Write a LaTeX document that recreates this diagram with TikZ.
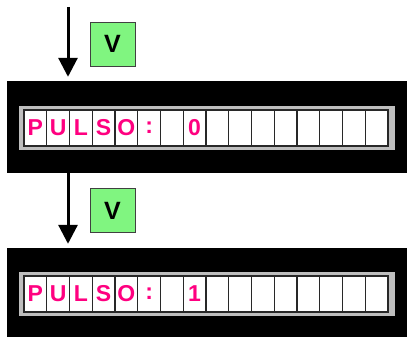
\documentclass[tikz,border=0pt]{standalone}
\usepackage{fontspec}
\setmainfont{Liberation Sans}
\usetikzlibrary{arrows.meta}
\definecolor{pulsepink}{RGB}{255,0,128}
\definecolor{vgreen}{RGB}{128,245,128}
\definecolor{stripgray}{RGB}{190,190,190}
\definecolor{cellline}{RGB}{40,40,40}
\begin{document}
\begin{tikzpicture}[x=1pt,y=-1pt,
  panel/.style={fill=black,draw=none,minimum width=400pt,minimum height=92pt,inner sep=0pt},
  strip/.style={fill=stripgray,draw=none,minimum width=376pt,minimum height=44pt,inner sep=0pt},
  cell/.style={fill=white,draw=cellline,line width=1.1pt,minimum width=22.75pt,minimum height=36pt,inner sep=0pt,
    text=pulsepink,font=\bfseries\fontsize{23}{23}\selectfont},
  vbox/.style={fill=vgreen,draw=black!75,line width=0.8pt,minimum width=45pt,minimum height=44pt,inner sep=0pt,
    font=\bfseries\fontsize{25}{25}\selectfont},
  flow/.style={line width=3pt,-{Triangle[length=19pt,width=19pt]},shorten >=4pt}
]
\useasboundingbox (0,0) rectangle (407,337);
% panels
\node[panel] (p1) at (207,127) {};
\node[panel,minimum height=90pt] (p2) at (207,293) {};
\node[strip] (s1) at (207,128) {};
\node[strip] (s2) at (207,294) {};
% cells
\foreach \t [count=\i] in {P,U,L,S,O,:,{},0,{},{},{},{},{},{},{},{}} {
  \node[cell] (a\i) at ({24+22.75*(\i-0.5)},128) {\t};
}
\foreach \t [count=\i] in {P,U,L,S,O,:,{},1,{},{},{},{},{},{},{},{}} {
  \node[cell] (b\i) at ({24+22.75*(\i-0.5)},294) {\t};
}
% V boxes
\node[vbox] (v1) at (112.5,44) {V};
\node[vbox] (v2) at (112.5,210.5) {V};
% arrows
\coordinate (top) at (68,7);
\draw[flow] (top) -- (top |- p1.north);
\draw[flow,shorten <=0pt] (top |- p1.south) -- (top |- p2.north);
\end{tikzpicture}
\end{document}
